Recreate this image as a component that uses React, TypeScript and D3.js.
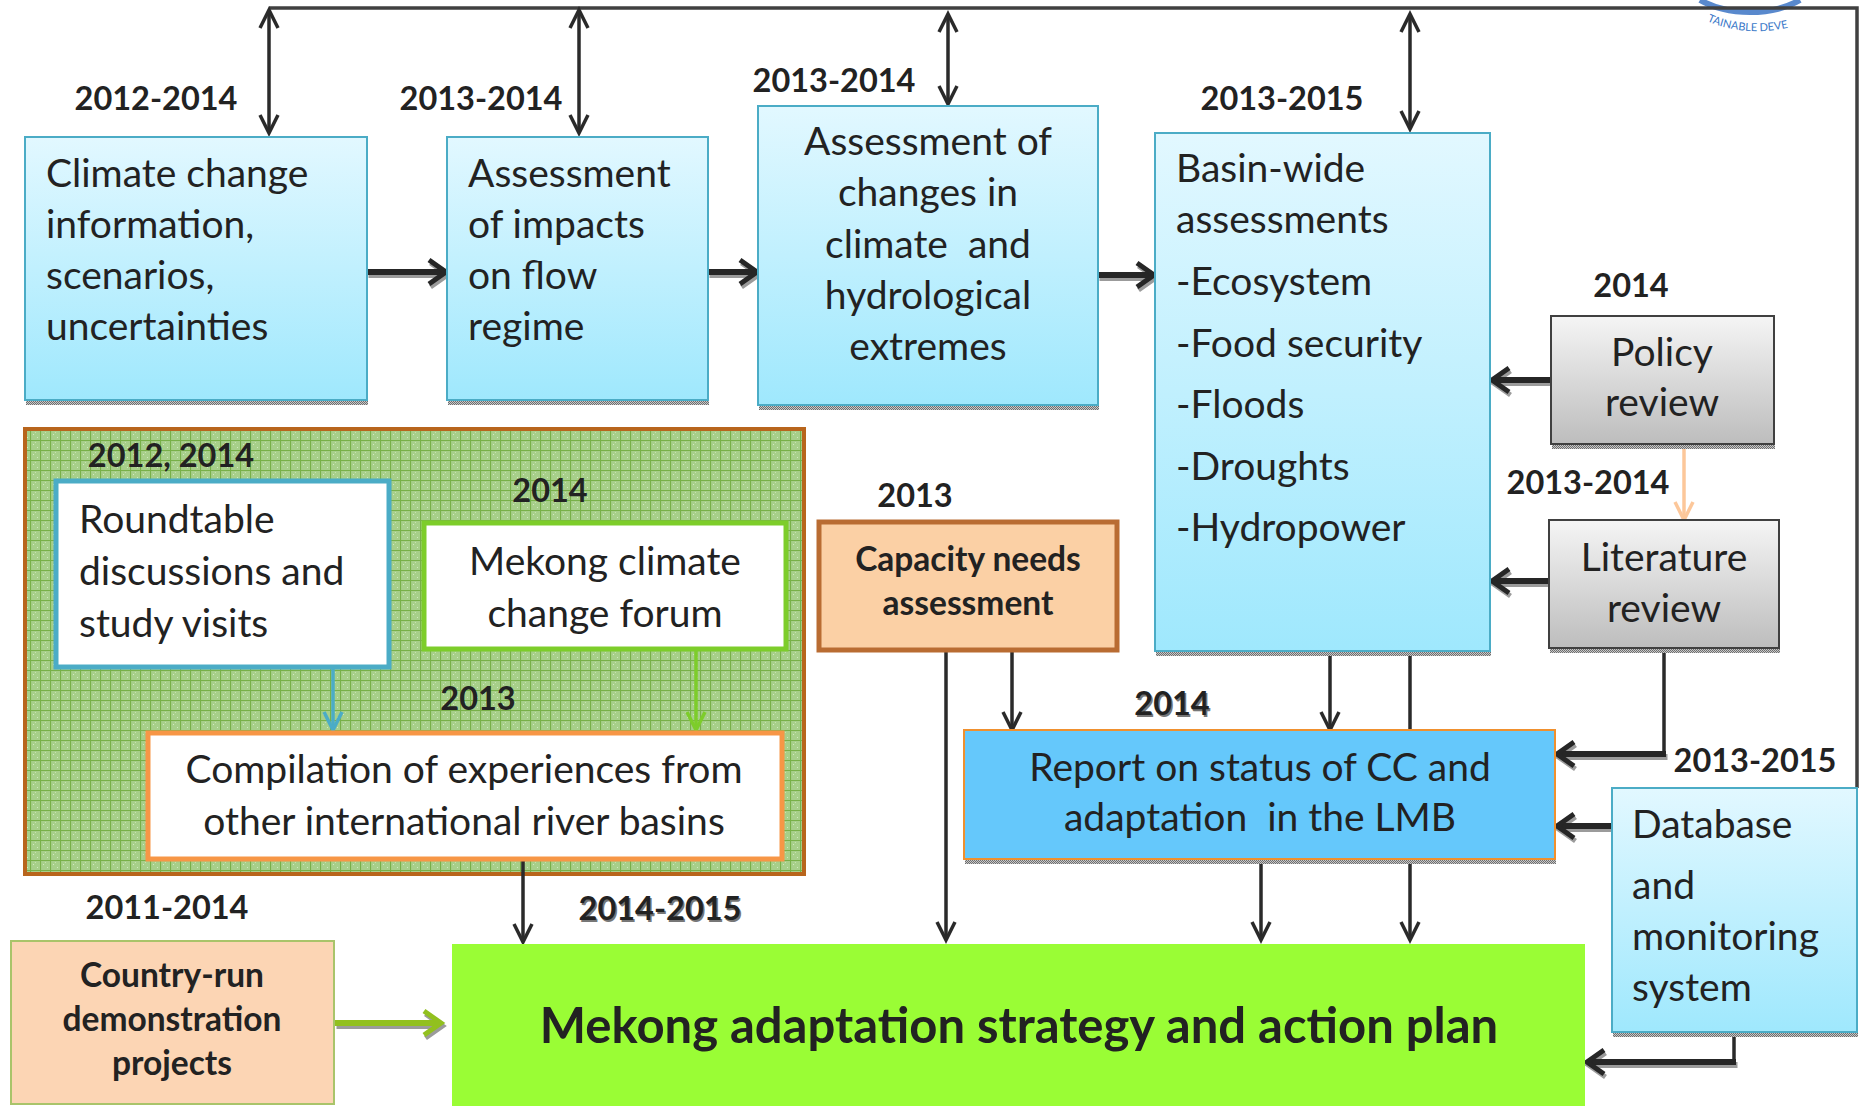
import React, { useEffect, useRef } from "react";
import * as d3 from "d3";

const W = 1862;
const H = 1106;

// box texts
const climateInfo = ["Climate change", "information,", "scenarios,", "uncertainties"];
const flowImpacts = ["Assessment", "of impacts", "on flow", "regime"];
const changesAssess = ["Assessment of", "changes in", "climate  and", "hydrological", "extremes"];
const basinWide = ["Basin-wide", "assessments", "-Ecosystem", "-Food security", "-Floods", "-Droughts", "-Hydropower"];
const policyReview = ["Policy", "review"];
const literatureReview = ["Literature", "review"];
const databaseSystem = ["Database", "and", "monitoring", "system"];
const capacityNeeds = ["Capacity needs", "assessment"];
const statusReport = ["Report on status of CC and", "adaptation  in the LMB"];
const roundtable = ["Roundtable", "discussions and", "study visits"];
const forum = ["Mekong climate", "change forum"];
const compilation = ["Compilation of experiences from", "other international river basins"];
const countryRun = ["Country-run", "demonstration", "projects"];
const strategy = ["Mekong adaptation strategy and action plan"];

// year labels, in reading order
const yearLabels = [
  "2012-2014", "2013-2014", "2013-2014", "2013-2015", "2014", "2013-2014", "2013",
  "2014", "2013-2015", "2012, 2014", "2014", "2013", "2011-2014", "2014-2015",
];

// layout (pixels)
const boxes = [
  { lines: climateInfo, x: 25, y: 137, w: 342, h: 263, style: "blue", align: "left", tx: 46, base: [187, 238, 289, 340] },
  { lines: flowImpacts, x: 447, y: 137, w: 261, h: 263, style: "blue", align: "left", tx: 468, base: [187, 238, 289, 340] },
  { lines: changesAssess, x: 758, y: 106, w: 340, h: 299, style: "blue", align: "middle", tx: 928, base: [155, 206, 258, 309, 360] },
  { lines: basinWide, x: 1155, y: 133, w: 335, h: 518, style: "blue", align: "left", tx: 1176, base: [182, 233, 295, 357, 418, 480, 541] },
  { lines: policyReview, x: 1551, y: 316, w: 223, h: 128, style: "gray", align: "middle", tx: 1662, base: [366, 416] },
  { lines: literatureReview, x: 1549, y: 520, w: 230, h: 128, style: "gray", align: "middle", tx: 1664, base: [571, 622] },
  { lines: databaseSystem, x: 1612, y: 788, w: 245, h: 244, style: "blue", align: "left", tx: 1632, base: [838, 899, 950, 1001] },
  { lines: capacityNeeds, x: 819, y: 522, w: 298, h: 128, style: "capacity", align: "middle", tx: 968, base: [571, 615], bold: true, size: 33.5 },
  { lines: statusReport, x: 964, y: 730, w: 591, h: 129, style: "report", align: "middle", tx: 1260, base: [781, 831] },
  { lines: roundtable, x: 56, y: 481, w: 333, h: 186, style: "round", align: "left", tx: 79, base: [533, 585, 637] },
  { lines: forum, x: 424, y: 523, w: 362, h: 126, style: "forum", align: "middle", tx: 605, base: [575, 627] },
  { lines: compilation, x: 148, y: 733, w: 634, h: 126, style: "compile", align: "middle", tx: 464, base: [783, 835] },
  { lines: countryRun, x: 11, y: 941, w: 323, h: 163, style: "country", align: "middle", tx: 172, base: [987, 1031, 1075], bold: true, size: 33.5 },
  { lines: strategy, x: 452, y: 944, w: 1133, h: 170, style: "strategy", align: "middle", tx: 1019, base: [1043], bold: true, size: 49 },
];

const labelPos = [
  [156, 110], [481, 110], [834, 92], [1282, 110], [1631, 297], [1588, 494], [915, 507],
  [1172, 715], [1755, 772], [171, 467], [550, 502], [478, 710], [167, 919], [660, 920],
];

const styles: Record<string, any> = {
  blue: { fill: "url(#gBlue)", stroke: "#4bacc6", sw: 2, shadow: true },
  gray: { fill: "url(#gGray)", stroke: "#404040", sw: 2, shadow: true },
  capacity: { fill: "#fbd0a5", stroke: "#b96c32", sw: 5 },
  report: { fill: "#65c8fb", stroke: "#f0902e", sw: 2, shadow: true },
  round: { fill: "#ffffff", stroke: "#4bacc6", sw: 5 },
  forum: { fill: "#ffffff", stroke: "#7dcd2a", sw: 5 },
  compile: { fill: "#ffffff", stroke: "#f79646", sw: 5 },
  country: { fill: "#fcd5b4", stroke: "#a9c46a", sw: 2 },
  strategy: { fill: "#9afd35", stroke: "none", sw: 0 },
};

type Pt = [number, number];
const links: { pts: Pt[]; kind: string; head?: boolean; both?: boolean; color?: string }[] = [
  { pts: [[269, 8], [1857, 8], [1857, 788]], kind: "bus", head: false },
  { pts: [[269, 10], [269, 133]], kind: "thin", both: true },
  { pts: [[579, 10], [579, 133]], kind: "thin", both: true },
  { pts: [[948, 14], [948, 104]], kind: "thin", both: true },
  { pts: [[1410, 14], [1410, 129]], kind: "thin", both: true },
  { pts: [[367, 272], [446, 272]], kind: "thick" },
  { pts: [[708, 272], [757, 272]], kind: "thick" },
  { pts: [[1098, 275], [1154, 275]], kind: "thick" },
  { pts: [[1551, 380], [1492, 380]], kind: "thick" },
  { pts: [[1549, 581], [1492, 581]], kind: "thick" },
  { pts: [[1664, 648], [1664, 754]], kind: "thin", head: false },
  { pts: [[1666, 754], [1557, 754]], kind: "thick" },
  { pts: [[1612, 826], [1557, 826]], kind: "thick" },
  { pts: [[1734, 1032], [1734, 1062]], kind: "thin", head: false },
  { pts: [[1736, 1062], [1587, 1062]], kind: "thick" },
  { pts: [[946, 651], [946, 940]], kind: "thin" },
  { pts: [[1012, 651], [1012, 730]], kind: "thin" },
  { pts: [[1330, 651], [1330, 730]], kind: "thin" },
  { pts: [[1410, 651], [1410, 730]], kind: "thin", head: false },
  { pts: [[1261, 859], [1261, 940]], kind: "thin" },
  { pts: [[1410, 859], [1410, 940]], kind: "thin" },
  { pts: [[523, 860], [523, 942]], kind: "thin" },
  { pts: [[333, 668], [333, 730]], kind: "thin", color: "#4bacc6" },
  { pts: [[696, 650], [696, 730]], kind: "thin", color: "#7dcd2a" },
  { pts: [[1684, 444], [1684, 520]], kind: "thin", color: "#fcc79a" },
  { pts: [[335, 1023], [441, 1023]], kind: "thick", color: "#92c01f" },
];

const Flowchart = () => {
  const ref = useRef<SVGSVGElement>(null);

  useEffect(() => {
    document.body.style.margin = "0";
    const svg = d3.select(ref.current);
    svg.selectAll("*").remove();
    const defs = svg.append("defs");

    const grad = (id: string, top: string, bottom: string) => {
      const g = defs.append("linearGradient").attr("id", id).attr("x1", 0).attr("y1", 0).attr("x2", 0).attr("y2", 1);
      g.append("stop").attr("offset", "0%").attr("stop-color", top);
      g.append("stop").attr("offset", "100%").attr("stop-color", bottom);
    };
    grad("gBlue", "#e2f8ff", "#9fe8fd");
    grad("gGray", "#f5f5f5", "#bdbdbd");

    const grid = defs.append("pattern").attr("id", "pGrid").attr("patternUnits", "userSpaceOnUse")
      .attr("width", 10).attr("height", 10);
    grid.append("rect").attr("width", 10).attr("height", 10).attr("fill", "#a7cf8a");
    grid.append("rect").attr("x", 3).attr("y", 4).attr("width", 1).attr("height", 1).attr("fill", "#d2e9c0");
    grid.append("rect").attr("x", 7).attr("y", 7).attr("width", 1).attr("height", 1).attr("fill", "#d2e9c0");
    grid.append("rect").attr("x", 5).attr("y", 2).attr("width", 1).attr("height", 1).attr("fill", "#c6e2b0");
    grid.append("path").attr("d", "M0 0.5H10M0.5 0V10").attr("stroke", "#78b048").attr("stroke-width", 1.2);

    const hatch = defs.append("pattern").attr("id", "pHatch").attr("patternUnits", "userSpaceOnUse")
      .attr("width", 2).attr("height", 2);
    hatch.append("rect").attr("width", 2).attr("height", 2).attr("fill", "#c8c8c8");
    hatch.append("rect").attr("width", 1).attr("height", 1).attr("fill", "#6e6e6e");
    hatch.append("rect").attr("x", 1).attr("y", 1).attr("width", 1).attr("height", 1).attr("fill", "#6e6e6e");

    // faint logo at top right
    const logo = svg.append("g");
    logo.append("path").attr("d", "M1700 0 A 70 40 0 0 0 1800 0").attr("fill", "none")
      .attr("stroke", "#2f6cc0").attr("stroke-width", 6).attr("opacity", 0.8);
    defs.append("path").attr("id", "logoArc").attr("d", "M1684 4 A 80 46 0 0 0 1830 4");
    logo.append("text").attr("font-family", "Lato").attr("font-size", 11).attr("fill", "#3a78c8")
      .append("textPath").attr("href", "#logoArc").attr("startOffset", "18%").text("TAINABLE DEVE");

    // green grouping area
    svg.append("rect").attr("x", 25).attr("y", 429).attr("width", 779).attr("height", 445)
      .attr("fill", "url(#pGrid)").attr("stroke", "#b8651c").attr("stroke-width", 4);

    // links
    const line = d3.line<Pt>();
    const chevron = (tip: Pt, from: Pt, len: number, half: number) => {
      const dx = tip[0] - from[0];
      const dy = tip[1] - from[1];
      const d = Math.hypot(dx, dy);
      const ux = dx / d, uy = dy / d;
      const a: Pt = [tip[0] - ux * len - uy * half, tip[1] - uy * len + ux * half];
      const b: Pt = [tip[0] - ux * len + uy * half, tip[1] - uy * len - ux * half];
      return line([a, tip, b]) as string;
    };
    const lg = svg.append("g").attr("fill", "none").attr("stroke-linejoin", "miter");
    links.forEach((l) => {
      const thick = l.kind === "thick";
      const sw = thick ? 6 : l.kind === "bus" ? 3.5 : 3.5;
      const color = l.color || (l.kind === "bus" ? "#404040" : thick ? "#262626" : "#2a2a2a");
      const len = thick ? 17 : 18;
      const half = thick ? 12 : 9;
      const hsw = thick ? 5 : 3.5;
      const n = l.pts.length;
      const heads: string[] = [];
      if (l.head !== false) heads.push(chevron(l.pts[n - 1], l.pts[n - 2], len, half));
      if (l.both) heads.push(chevron(l.pts[0], l.pts[1], len, half));
      if (thick) {
        const sh = lg.append("g").attr("transform", "translate(1.5,3)").attr("stroke", "url(#pHatch)");
        sh.append("path").attr("d", line(l.pts) as string).attr("stroke-width", sw);
        heads.forEach((h) => sh.append("path").attr("d", h).attr("stroke-width", hsw));
      }
      lg.append("path").attr("d", line(l.pts) as string).attr("stroke", color).attr("stroke-width", sw);
      heads.forEach((h) => lg.append("path").attr("d", h).attr("stroke", color).attr("stroke-width", hsw));
    });

    // boxes
    const bg = svg.append("g");
    boxes.forEach((b) => {
      const s = styles[b.style];
      if (s.shadow) {
        bg.append("rect").attr("x", b.x + 1).attr("y", b.y + b.h).attr("width", b.w)
          .attr("height", 5).attr("fill", "url(#pHatch)");
      }
      bg.append("rect").attr("x", b.x).attr("y", b.y).attr("width", b.w).attr("height", b.h)
        .attr("fill", s.fill).attr("stroke", s.stroke).attr("stroke-width", s.sw);
      const t = bg.append("text").attr("font-family", "Lato, 'Noto Sans', sans-serif")
        .attr("font-size", b.size || 39).attr("font-weight", b.bold ? 700 : 400)
        .attr("fill", "#222").attr("text-anchor", b.align === "left" ? "start" : "middle");
      b.lines.forEach((txt, i) => {
        t.append("tspan").attr("x", b.tx).attr("y", b.base[i]).attr("xml:space", "preserve").text(txt);
      });
    });

    // year labels
    const yg = svg.append("g").attr("font-family", "Lato, 'Noto Sans', sans-serif")
      .attr("font-size", 32.5).attr("font-weight", 700).attr("text-anchor", "middle");
    yearLabels.forEach((txt, i) => {
      const [x, y] = labelPos[i];
      if (i === 7 || i === 13) {
        yg.append("text").attr("x", x + 1.5).attr("y", y + 2).attr("fill", "#777").text(txt);
      }
      yg.append("text").attr("x", x).attr("y", y).attr("fill", "#222").text(txt);
    });
  }, []);

  return <svg ref={ref} width={W} height={H} style={{ display: "block", background: "#fff" }} />;
};

const App = () => <Flowchart />;

export default App;
